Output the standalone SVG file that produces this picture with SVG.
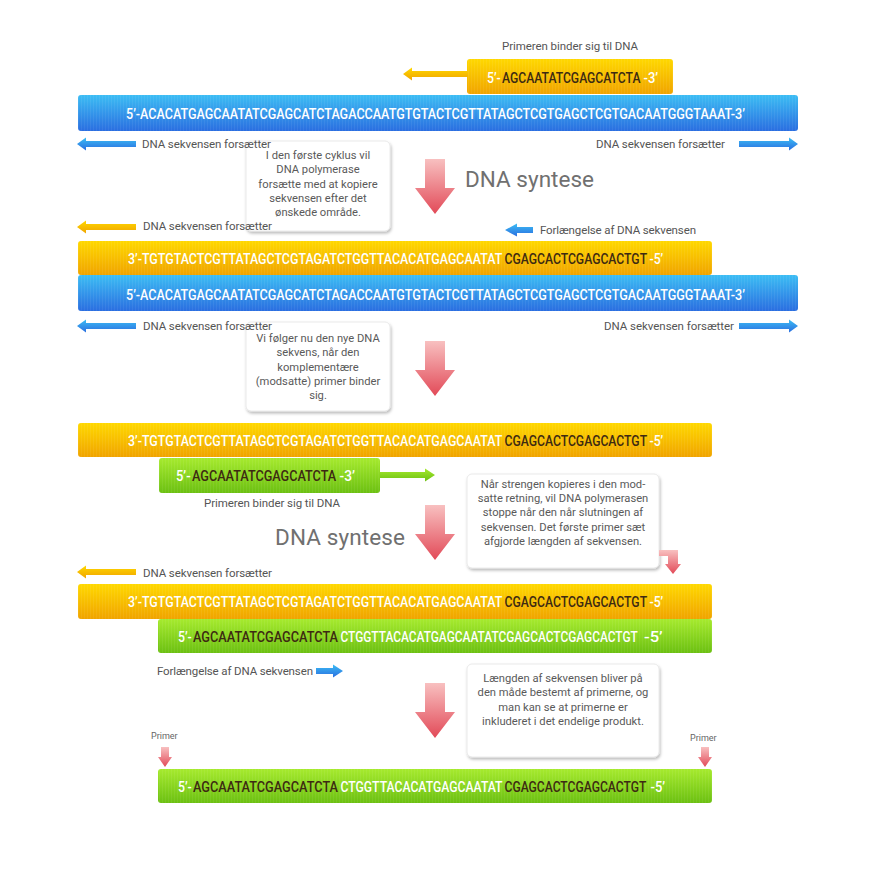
<svg xmlns="http://www.w3.org/2000/svg" width="874" height="884" viewBox="0 0 874 884">
<defs>
<linearGradient id="gBlue" x1="0" y1="0" x2="0" y2="1"><stop offset="0" stop-color="#3cbdf4"/><stop offset="1" stop-color="#2a6ee0"/></linearGradient>
<linearGradient id="gYel" x1="0" y1="0" x2="0" y2="1"><stop offset="0" stop-color="#ffd800"/><stop offset="1" stop-color="#f0a400"/></linearGradient>
<linearGradient id="gGrn" x1="0" y1="0" x2="0" y2="1"><stop offset="0" stop-color="#a6ea2e"/><stop offset="1" stop-color="#6cc012"/></linearGradient>
<linearGradient id="gRed" x1="0" y1="0" x2="0" y2="1"><stop offset="0" stop-color="#f8c0c0"/><stop offset="1" stop-color="#e24a58"/></linearGradient>
<pattern id="tex" width="3" height="10" patternUnits="userSpaceOnUse"><rect width="1" height="10" fill="#ffffff" opacity="0.06"/></pattern>
<filter id="sh" x="-10%" y="-10%" width="125%" height="130%"><feDropShadow dx="1" dy="2" stdDeviation="1.8" flood-color="#000" flood-opacity="0.28"/></filter>
</defs>
<style>
.blue{fill:url(#gBlue)}
.yel{fill:url(#gYel)}
.grn{fill:url(#gGrn)}
.red{fill:url(#gRed)}
.seq{font-family:Roboto,"Liberation Sans",sans-serif;font-size:14.5px;font-weight:500;fill:#ffffff}
.dk{fill:#3d2a12}
.lbl{font-family:Roboto,"Liberation Sans",sans-serif;font-size:11.5px;fill:#555555}
.sm{font-family:Roboto,"Liberation Sans",sans-serif;font-size:9px;fill:#666666}
.call{fill:#ffffff;stroke:#e4e4e4;stroke-width:0.8;filter:url(#sh)}
.ct{font-family:Roboto,"Liberation Sans",sans-serif;font-size:11.2px;fill:#5a5a5a;text-anchor:middle}
.big{font-family:Roboto,"Liberation Sans",sans-serif;font-size:22.5px;font-weight:400;fill:#707070}
</style>
<rect width="874" height="884" fill="#ffffff"/>

<g id="callout-1">
<rect class="call" x="246" y="141" width="144" height="90" rx="5"/>
<text class="ct" x="318" y="159">I den første cyklus vil</text>
<text class="ct" x="318" y="173.3">DNA polymerase</text>
<text class="ct" x="318" y="187.6">forsætte med at kopiere</text>
<text class="ct" x="318" y="202">sekvensen efter det</text>
<text class="ct" x="318" y="216.3">ønskede område.</text>
</g>

<g id="callout-2">
<rect class="call" x="246" y="322" width="144" height="89" rx="5"/>
<text class="ct" x="318" y="342">Vi følger nu den nye DNA</text>
<text class="ct" x="318" y="356.3">sekvens, når den</text>
<text class="ct" x="318" y="370.6">komplementære</text>
<text class="ct" x="318" y="385">(modsatte) primer binder</text>
<text class="ct" x="318" y="399.3">sig.</text>
</g>

<g id="callout-3">
<rect class="call" x="467" y="474" width="192" height="94" rx="5"/>
<text class="ct" x="563" y="488">Når strengen kopieres i den mod-</text>
<text class="ct" x="563" y="502.2">satte retning, vil DNA polymerasen</text>
<text class="ct" x="563" y="516.4">stoppe når den når slutningen af</text>
<text class="ct" x="563" y="530.6">sekvensen. Det første primer sæt</text>
<text class="ct" x="563" y="544.8">afgjorde længden af sekvensen.</text>
</g>

<g id="callout-4">
<rect class="call" x="467" y="664" width="192" height="93" rx="5"/>
<text class="ct" x="563" y="682">Længden af sekvensen bliver på</text>
<text class="ct" x="563" y="696.3">den måde bestemt af primerne, og</text>
<text class="ct" x="563" y="710.6">man kan se at primerne er</text>
<text class="ct" x="563" y="725">inkluderet i det endelige produkt.</text>
</g>

<g id="label-top-primer"><text class="lbl" x="502" y="50" textLength="136" lengthAdjust="spacing">Primeren binder sig til DNA</text></g>

<g id="primer-top">
<rect class="yel" x="467" y="59" width="206" height="35" rx="3"/>
<rect fill="url(#tex)" x="467" y="59" width="206" height="35" rx="3"/>
<text class="seq" transform="translate(487,83) scale(0.81,1)" textLength="17" lengthAdjust="spacingAndGlyphs">5’-</text>
<text class="seq dk" transform="translate(502,83) scale(0.81,1)" textLength="171" lengthAdjust="spacingAndGlyphs">AGCAATATCGAGCATCTA</text>
<text class="seq" transform="translate(643.5,83) scale(0.81,1)" textLength="18" lengthAdjust="spacingAndGlyphs">-3’</text>
</g>

<g id="strand-blue-1">
<rect class="blue" x="78" y="95" width="720" height="36" rx="3"/>
<rect fill="url(#tex)" x="78" y="95" width="720" height="36" rx="3"/>
<text class="seq" transform="translate(126,119) scale(0.81,1)" textLength="764" lengthAdjust="spacingAndGlyphs">5’-ACACATGAGCAATATCGAGCATCTAGACCAATGTGTACTCGTTATAGCTCGTGAGCTCGTGACAATGGGTAAAT-3’</text>
</g>

<g id="labels-row1">
<text class="lbl" x="142" y="148" textLength="129" lengthAdjust="spacing">DNA sekvensen forsætter</text>
<text class="lbl" x="596" y="148" textLength="129" lengthAdjust="spacing">DNA sekvensen forsætter</text>
</g>

<g id="title-1"><text class="big" x="465" y="187" textLength="129" lengthAdjust="spacing">DNA syntese</text></g>

<g id="labels-row2">
<text class="lbl" x="143" y="230" textLength="129" lengthAdjust="spacing">DNA sekvensen forsætter</text>
<text class="lbl" x="540" y="234" textLength="156" lengthAdjust="spacing">Forlængelse af DNA sekvensen</text>
</g>

<g id="strand-yellow-2">
<rect class="yel" x="78" y="241" width="634" height="34" rx="3"/>
<rect fill="url(#tex)" x="78" y="241" width="634" height="34" rx="3"/>
<text class="seq" transform="translate(128,264) scale(0.81,1)" textLength="462" lengthAdjust="spacingAndGlyphs">3’-TGTGTACTCGTTATAGCTCGTAGATCTGGTTACACATGAGCAATAT</text>
<text class="seq dk" transform="translate(504.5,264) scale(0.81,1)" textLength="176" lengthAdjust="spacingAndGlyphs">CGAGCACTCGAGCACTGT</text>
<text class="seq" transform="translate(649.5,264) scale(0.81,1)" textLength="17" lengthAdjust="spacingAndGlyphs">-5’</text>
</g>

<g id="strand-blue-2">
<rect class="blue" x="78" y="275" width="720" height="36" rx="3"/>
<rect fill="url(#tex)" x="78" y="275" width="720" height="36" rx="3"/>
<text class="seq" transform="translate(126,300) scale(0.81,1)" textLength="764" lengthAdjust="spacingAndGlyphs">5’-ACACATGAGCAATATCGAGCATCTAGACCAATGTGTACTCGTTATAGCTCGTGAGCTCGTGACAATGGGTAAAT-3’</text>
</g>

<g id="labels-row3">
<text class="lbl" x="143" y="330" textLength="129" lengthAdjust="spacing">DNA sekvensen forsætter</text>
<text class="lbl" x="604" y="330" textLength="130" lengthAdjust="spacing">DNA sekvensen forsætter</text>
</g>

<g id="strand-yellow-3">
<rect class="yel" x="78" y="423" width="634" height="34" rx="3"/>
<rect fill="url(#tex)" x="78" y="423" width="634" height="34" rx="3"/>
<text class="seq" transform="translate(128,446) scale(0.81,1)" textLength="462" lengthAdjust="spacingAndGlyphs">3’-TGTGTACTCGTTATAGCTCGTAGATCTGGTTACACATGAGCAATAT</text>
<text class="seq dk" transform="translate(504.5,446) scale(0.81,1)" textLength="176" lengthAdjust="spacingAndGlyphs">CGAGCACTCGAGCACTGT</text>
<text class="seq" transform="translate(649.5,446) scale(0.81,1)" textLength="17" lengthAdjust="spacingAndGlyphs">-5’</text>
</g>

<g id="primer-green">
<rect class="grn" x="159" y="458" width="221" height="35" rx="3"/>
<rect fill="url(#tex)" x="159" y="458" width="221" height="35" rx="3"/>
<text class="seq" transform="translate(176,481) scale(0.81,1)" textLength="18" lengthAdjust="spacingAndGlyphs">5’-</text>
<text class="seq dk" transform="translate(192,481) scale(0.81,1)" textLength="178" lengthAdjust="spacingAndGlyphs">AGCAATATCGAGCATCTA</text>
<text class="seq" transform="translate(339.5,481) scale(0.81,1)" textLength="19" lengthAdjust="spacingAndGlyphs">-3’</text>
</g>

<g id="label-green-primer"><text class="lbl" x="204" y="507" textLength="136" lengthAdjust="spacing">Primeren binder sig til DNA</text></g>

<g id="title-2"><text class="big" x="275" y="545" textLength="130" lengthAdjust="spacing">DNA syntese</text></g>

<g id="labels-row4">
<text class="lbl" x="143" y="577" textLength="129" lengthAdjust="spacing">DNA sekvensen forsætter</text>
<text class="lbl" x="157" y="675" textLength="156" lengthAdjust="spacing">Forlængelse af DNA sekvensen</text>
</g>

<g id="strand-yellow-4">
<rect class="yel" x="78" y="584" width="634" height="35" rx="3"/>
<rect fill="url(#tex)" x="78" y="584" width="634" height="35" rx="3"/>
<text class="seq" transform="translate(128,607) scale(0.81,1)" textLength="462" lengthAdjust="spacingAndGlyphs">3’-TGTGTACTCGTTATAGCTCGTAGATCTGGTTACACATGAGCAATAT</text>
<text class="seq dk" transform="translate(504.5,607) scale(0.81,1)" textLength="176" lengthAdjust="spacingAndGlyphs">CGAGCACTCGAGCACTGT</text>
<text class="seq" transform="translate(649.5,607) scale(0.81,1)" textLength="17" lengthAdjust="spacingAndGlyphs">-5’</text>
</g>

<g id="strand-green-4">
<rect class="grn" x="158" y="619" width="554" height="34" rx="3"/>
<rect fill="url(#tex)" x="158" y="619" width="554" height="34" rx="3"/>
<text class="seq" transform="translate(178,642) scale(0.81,1)" textLength="17" lengthAdjust="spacingAndGlyphs">5’-</text>
<text class="seq dk" transform="translate(193,642) scale(0.81,1)" textLength="179" lengthAdjust="spacingAndGlyphs">AGCAATATCGAGCATCTA</text>
<text class="seq" transform="translate(340.5,642) scale(0.81,1)" textLength="367" lengthAdjust="spacingAndGlyphs">CTGGTTACACATGAGCAATATCGAGCACTCGAGCACTGT</text>
<text class="seq" transform="translate(644,642) scale(0.81,1)" textLength="23" lengthAdjust="spacingAndGlyphs">-5’</text>
</g>

<g id="primer-labels">
<text class="sm" x="151" y="739">Primer</text>
<text class="sm" x="690" y="741">Primer</text>
</g>

<g id="strand-final">
<rect class="grn" x="158" y="769" width="554" height="34" rx="3"/>
<rect fill="url(#tex)" x="158" y="769" width="554" height="34" rx="3"/>
<text class="seq" transform="translate(178,792) scale(0.81,1)" textLength="17" lengthAdjust="spacingAndGlyphs">5’-</text>
<text class="seq dk" transform="translate(193,792) scale(0.81,1)" textLength="179" lengthAdjust="spacingAndGlyphs">AGCAATATCGAGCATCTA</text>
<text class="seq" transform="translate(340.5,792) scale(0.81,1)" textLength="200" lengthAdjust="spacingAndGlyphs">CTGGTTACACATGAGCAATAT</text>
<text class="seq dk" transform="translate(504.5,792) scale(0.81,1)" textLength="175" lengthAdjust="spacingAndGlyphs">CGAGCACTCGAGCACTGT</text>
<text class="seq" transform="translate(650.5,792) scale(0.81,1)" textLength="18" lengthAdjust="spacingAndGlyphs">-5’</text>
</g>

<g id="connectors">
<path class="yel" d="M403,74 L412,67.5 L412,71 L468,71 L468,77 L412,77 L412,80.5 Z"/>
<path class="blue" d="M77,144 L86,137.5 L86,141 L136,141 L136,147 L86,147 L86,150.5 Z"/>
<path class="blue" d="M798,144 L789,137.5 L789,141 L739,141 L739,147 L789,147 L789,150.5 Z"/>
<path class="red" d="M425,159 L445,159 L445,188 L455,188 L435,214 L415,188 L425,188 Z"/>
<path class="yel" d="M77,227 L86,220.5 L86,224 L136,224 L136,230 L86,230 L86,233.5 Z"/>
<path class="blue" d="M505,230 L517,223.5 L517,227 L533,227 L533,233 L517,233 L517,236.5 Z"/>
<path class="blue" d="M77,326 L86,319.5 L86,323 L136,323 L136,329 L86,329 L86,332.5 Z"/>
<path class="blue" d="M798,326 L789,319.5 L789,323 L739,323 L739,329 L789,329 L789,332.5 Z"/>
<path class="red" d="M425,341 L445,341 L445,370 L455,370 L435,396 L415,370 L425,370 Z"/>
<path class="grn" d="M435,475 L425,468.5 L425,472 L380,472 L380,478 L425,478 L425,481.5 Z"/>
<path class="red" d="M425,505 L445,505 L445,534 L455,534 L435,560 L415,534 L425,534 Z"/>
<path class="red" d="M659,550 L678,550 L678,564 L681,564 L673,574 L665,564 L668,564 L668,556 L659,556 Z"/>
<path class="yel" d="M77,572 L86,565.5 L86,569 L136,569 L136,575 L86,575 L86,578.5 Z"/>
<path class="blue" d="M343,671 L333,664.5 L333,668 L316,668 L316,674 L333,674 L333,677.5 Z"/>
<path class="red" d="M425,683 L445,683 L445,712 L455,712 L435,738 L415,712 L425,712 Z"/>
<path class="red" d="M161,747 L169,747 L169,757 L172,757 L165,767 L158,757 L161,757 Z"/>
<path class="red" d="M701,747 L709,747 L709,757 L712,757 L705,767 L698,757 L701,757 Z"/>
</g>
</svg>
